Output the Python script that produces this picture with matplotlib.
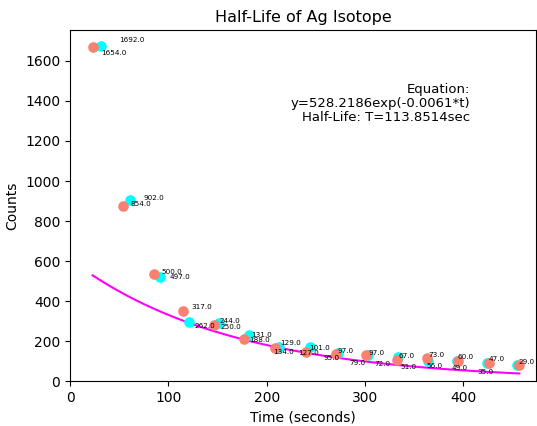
import matplotlib.pyplot as plt
import numpy as np

# measurement times (s) and counts for the two runs
t_run1 = [31, 61, 92, 121, 152, 182, 213, 244, 273, 303, 334, 364, 394, 424, 455]
c_run1 = [1675, 905, 518, 295, 290, 230, 170, 170, 140, 130, 120, 100, 100, 90, 80]
t_run2 = [23, 54, 85, 115, 146, 177, 208, 240, 271, 301, 333, 363, 395, 426, 457]
c_run2 = [1672, 877, 535, 350, 280, 210, 165, 145, 135, 130, 105, 115, 100, 90, 80]

# raw readings printed next to the points
raw_a = [1654, 854, 500, 317, 244, 131, 129, 101, 97, 97, 67, 73, 60, 47, 29]
raw_b = [1692, 902, 497, 262, 250, 188, 134, 127, 95, 79, 72, 51, 56, 49, 35]

# fit results
A = 528.2186
half_life = 113.8514

# where the readings are written (data coords, left/centre anchored)
pos_a = [(32, 1640), (62, 883), (93, 545), (123, 368), (152, 298), (184, 230),
         (214, 188), (243, 165), (272, 151), (304, 141), (334, 125), (365, 130),
         (394, 121), (426, 108), (456, 96)]
pos_b = [(50, 1707), (75, 916), (101, 521), (127, 276), (153, 268), (182, 205),
         (207, 146), (232, 141), (258, 113), (284, 91), (310, 85), (336, 68),
         (363, 75), (388, 63), (414, 46)]

k = np.log(2) / half_life
t_fit = np.linspace(t_run2[0], t_run2[-1], 200)
y_fit = A * np.exp(-k * (t_fit - t_fit[0]))

fig = plt.figure(figsize=(5.37, 4.26), dpi=100)
ax = fig.add_axes([0.1304, 0.1056, 0.8678, 0.824])

ax.scatter(t_run1, c_run1, s=44, color='cyan', zorder=2)
ax.scatter(t_run2, c_run2, s=44, color='salmon', zorder=3)
ax.plot(t_fit, y_fit, color='magenta', lw=1.5, zorder=1)

for v, (x, y) in zip(raw_a, pos_a):
    ax.text(x, y, f"{float(v):.1f}", fontsize=5.2, ha='left', va='center', zorder=4)
for v, (x, y) in zip(raw_b, pos_b):
    ax.text(x, y, f"{float(v):.1f}", fontsize=5.2, ha='left', va='center', zorder=4)

ax.text(0.858, 0.85,
        f"Equation:\ny={A:.4f}exp(-{k:.4f}*t)\nHalf-Life: T={half_life:.4f}sec",
        transform=ax.transAxes, ha='right', va='top', fontsize=9.5, linespacing=1.1)

ax.set_xlim(0, 474)
ax.set_ylim(0, 1755)
ax.set_title('Half-Life of Ag Isotope', fontsize=11.5)
ax.set_xlabel('Time (seconds)')
ax.set_ylabel('Counts')

fig.savefig('out.png', dpi=100)
